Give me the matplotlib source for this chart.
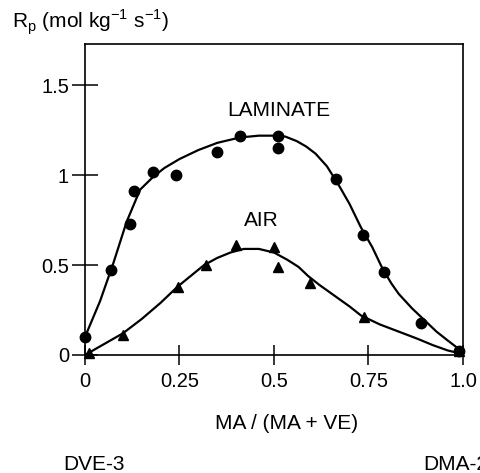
import matplotlib.pyplot as plt

plt.rcParams['font.family'] = ['Liberation Sans', 'DejaVu Sans']

# measured points
lam_x = [0.0, 0.07, 0.12, 0.13, 0.18, 0.24, 0.35, 0.41, 0.51, 0.51, 0.665, 0.735, 0.79, 0.89, 0.99]
lam_y = [0.10, 0.47, 0.73, 0.91, 1.02, 1.00, 1.13, 1.22, 1.22, 1.15, 0.98, 0.67, 0.46, 0.18, 0.02]

air_x = [0.01, 0.10, 0.245, 0.32, 0.40, 0.50, 0.51, 0.595, 0.737, 0.99]
air_y = [0.01, 0.11, 0.38, 0.50, 0.61, 0.60, 0.49, 0.40, 0.21, 0.02]

# fitted curves
lam_fit_x = [0.0, 0.04, 0.075, 0.11, 0.146, 0.18, 0.21, 0.25, 0.30, 0.35, 0.41, 0.46, 0.5, 0.53,
             0.56, 0.585, 0.61, 0.64, 0.67, 0.70, 0.73, 0.76, 0.785, 0.81, 0.83, 0.865, 0.90, 0.93,
             0.96, 0.985, 1.0]
lam_fit_y = [0.10, 0.30, 0.51, 0.74, 0.92, 0.99, 1.04, 1.09, 1.14, 1.18, 1.21, 1.22, 1.22, 1.215,
             1.19, 1.16, 1.12, 1.05, 0.95, 0.84, 0.71, 0.60, 0.49, 0.40, 0.34, 0.26, 0.19, 0.13,
             0.08, 0.04, 0.02]

air_fit_x = [0.0, 0.05, 0.10, 0.15, 0.20, 0.245, 0.28, 0.315, 0.35, 0.385, 0.42, 0.46, 0.5, 0.535,
             0.565, 0.59, 0.62, 0.66, 0.70, 0.73, 0.78, 0.83, 0.88, 0.92, 0.96, 0.99]
air_fit_y = [0.0, 0.06, 0.12, 0.20, 0.29, 0.38, 0.44, 0.50, 0.54, 0.57, 0.59, 0.59, 0.57, 0.53,
             0.49, 0.44, 0.39, 0.33, 0.27, 0.22, 0.17, 0.13, 0.09, 0.055, 0.025, 0.01]

fig = plt.figure(figsize=(4.8, 4.73), dpi=100)
ax = fig.add_axes([0.177, 0.2495, 0.7875, 0.6575])

ax.plot(lam_fit_x, lam_fit_y, color='black', lw=1.6)
ax.plot(air_fit_x, air_fit_y, color='black', lw=1.6)
ax.plot(lam_x, lam_y, 'o', color='black', ms=7.5, clip_on=False)
ax.plot(air_x, air_y, '^', color='black', ms=7.5, clip_on=False)

ax.text(0.513, 1.36, 'LAMINATE', ha='center', va='center', fontsize=15)
ax.text(0.466, 0.75, 'AIR', ha='center', va='center', fontsize=15)

ax.set_xlim(0, 1.0)
ax.set_ylim(0, 1.73)
ax.set_xticks([0, 0.25, 0.5, 0.75, 1.0])
ax.set_xticklabels(['0', '0.25', '0.5', '0.75', '1.0'])
ax.set_yticks([0, 0.5, 1, 1.5])
ax.set_yticklabels(['0', '0.5', '1', '1.5'])
ax.tick_params(axis='x', direction='inout', length=14, width=1.1, labelsize=14.5, pad=5)
ax.tick_params(axis='y', direction='inout', length=19, width=1.1, labelsize=14.5, pad=2)
for s in ax.spines.values():
    s.set_linewidth(1.2)

fig.text(0.025, 0.953, r'R$_\mathregular{p}$ (mol kg$^\mathregular{-1}$ s$^\mathregular{-1}$)',
         fontsize=15, ha='left', va='center')
fig.text(0.598, 0.105, 'MA / (MA + VE)', fontsize=15, ha='center', va='center')
fig.text(0.131, 0.017, 'DVE-3', fontsize=15, ha='left', va='center')
fig.text(0.881, 0.017, 'DMA-2', fontsize=15, ha='left', va='center')

fig.savefig('out.png', dpi=100)
